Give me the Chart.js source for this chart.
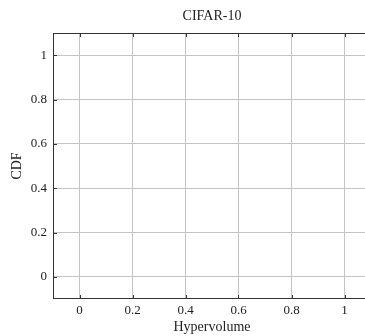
<!DOCTYPE html>
<html>
<head>
<meta charset="utf-8">
<script src="https://cdn.jsdelivr.net/npm/chart.js@4.4.1/dist/chart.umd.min.js"></script>
<style>
	html, body { margin: 0; padding: 0; overflow: hidden; background: #fff; }
	#wrap { width: 365px; height: 336px; overflow: hidden; }
	canvas { display: block; }
</style>
</head>
<body>
<div id="wrap"><canvas id="cdfChart" width="371" height="336"></canvas></div>
<script>
// Dados do gráfico (o gráfico original não tem curvas)
const seriesLabels = [];
const seriesPoints = [];
const xTicks = [0, 0.2, 0.4, 0.6, 0.8, 1];
const yTicks = [0, 0.2, 0.4, 0.6, 0.8, 1];
const xRange = [-0.1, 1.1];
const yRange = [-0.1, 1.1];

const serif = "'Liberation Serif', 'DejaVu Serif', serif";
const ink = '#222';

// Moldura e marcas internas, como no pgfplots
const framePlugin = {
	id: 'frame',
	afterDraw(chart) {
		const { ctx, chartArea: a, scales: { x, y } } = chart;
		ctx.save();
		ctx.strokeStyle = '#333';
		ctx.lineWidth = 1;
		ctx.strokeRect(a.left + 0.5, a.top + 0.5, a.right - a.left - 1, a.bottom - a.top - 1);
		ctx.beginPath();
		xTicks.forEach(v => {
			let px = Math.round(x.getPixelForValue(v)) + 0.5;
			ctx.moveTo(px, a.bottom); ctx.lineTo(px, a.bottom - 4);
			ctx.moveTo(px, a.top); ctx.lineTo(px, a.top + 4);
		});
		yTicks.forEach(v => {
			let py = Math.round(y.getPixelForValue(v)) + 0.5;
			ctx.moveTo(a.left, py); ctx.lineTo(a.left + 4, py);
			ctx.moveTo(a.right, py); ctx.lineTo(a.right - 4, py);
		});
		ctx.stroke();
		ctx.restore();
	}
};

const chartData = {
	datasets: seriesLabels.map((label, i) => ({
		label: label,
		data: seriesPoints[i]
	}))
};

new Chart(document.getElementById('cdfChart').getContext('2d'), {
	type: 'scatter',
	data: chartData,
	options: {
		responsive: false,
		animation: false,
		devicePixelRatio: 1,
		layout: { padding: { left: 0, right: 0, top: 0, bottom: 0 } },
		plugins: {
			legend: { display: false },
			tooltip: { enabled: false },
			title: {
				display: true,
				text: 'CIFAR-10',
				fullSize: false,
				color: ink,
				font: { family: serif, size: 14, weight: 'normal' },
				padding: { top: 7.6, bottom: 8.6 }
			}
		},
		scales: {
			x: {
				type: 'linear',
				min: xRange[0],
				max: xRange[1],
				afterBuildTicks: s => { s.ticks = xTicks.map(v => ({ value: v })); },
				afterFit: s => { s.height = 37; },
				grid: { color: '#c4c4c4', lineWidth: 1, drawTicks: false },
				border: { display: false },
				ticks: {
					color: ink,
					padding: 4,
					maxRotation: 0,
					font: { family: serif, size: 13 },
					callback: v => String(+v.toFixed(1))
				},
				title: {
					display: true,
					text: 'Hypervolume',
					color: ink,
					font: { family: serif, size: 14 },
					padding: { top: 0, bottom: 0.5 }
				}
			},
			y: {
				type: 'linear',
				min: yRange[0],
				max: yRange[1],
				afterBuildTicks: s => { s.ticks = yTicks.map(v => ({ value: v })); },
				afterFit: s => { s.width = 53; },
				grid: { color: '#c4c4c4', lineWidth: 1, drawTicks: false },
				border: { display: false },
				ticks: {
					color: ink,
					padding: 6,
					font: { family: serif, size: 13 },
					callback: v => String(+v.toFixed(1))
				},
				title: {
					display: true,
					text: 'CDF',
					color: ink,
					font: { family: serif, size: 14 },
					padding: { top: 8.6, bottom: 0 }
				}
			}
		}
	},
	plugins: [framePlugin]
});
</script>
</body>
</html>
